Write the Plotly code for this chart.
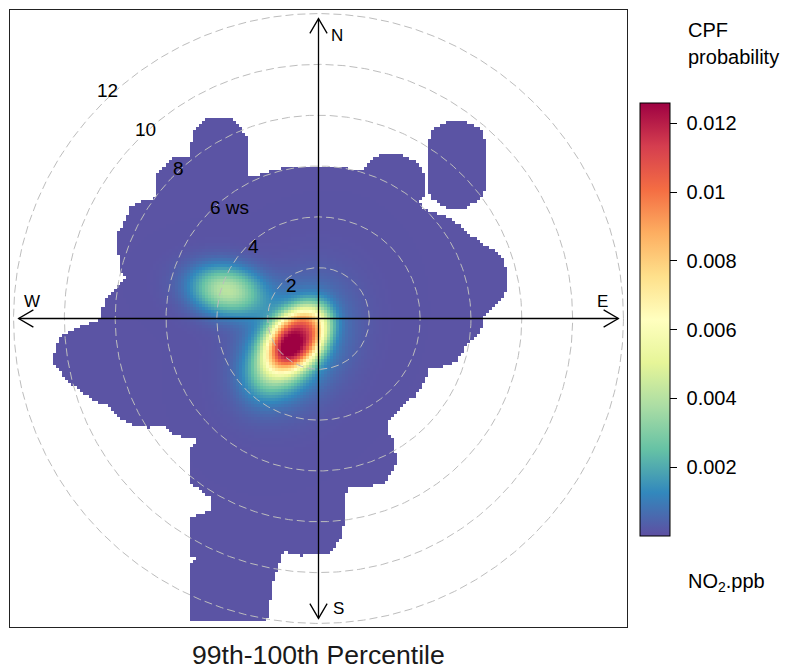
import numpy as np
import plotly.graph_objects as go

# ---------------- data (wind speed units / CPF probability) ----------------
ring_ws = [2, 4, 6, 8, 10, 12]
ring_labels = ["2", "4", "6 ws", "8", "10", "12"]
compass_labels = ["N", "E", "S", "W"]

cbar_tickvals = [0.002, 0.004, 0.006, 0.008, 0.01, 0.012]
cbar_ticktext = ["0.002", "0.004", "0.006", "0.008", "0.01", "0.012"]
cpf_min = 0.0
cpf_max = 0.0126
cpf_background = 0.0001

# CPF hot spots read from the surface (centre u/v in ws, peak, spread)
hot_u = [-0.80, -1.55, -0.90, -3.61]
hot_v = [-0.74, -1.62, -0.95, 1.11]
hot_peak = [0.0084, 0.0040, 0.0022, 0.0040]
hot_major = [1.35, 1.40, 2.10, 1.34]
hot_minor = [0.95, 0.95, 1.60, 0.89]
hot_angle = [50, 55, 60, -10]
hot_power = [3, 2, 2, 2]

# outline of the area covered by data (u, v components in ws)
main_u = [0.00, 0.59, 1.65, 2.05, 2.44, 3.35, 3.90, 4.13, 4.21, 3.94, 4.21, 4.69, 5.08, 5.71, 6.26,
          6.89, 7.28, 7.44, 7.36, 7.17, 6.50, 6.38, 5.87, 5.47, 4.80, 4.29, 4.21, 3.74, 3.23, 2.83,
          2.72, 2.95, 3.11, 2.56, 1.14, 0.98, 0.47, -0.71, -1.30, -1.38, -1.77, -2.01, -5.12, -5.04,
          -4.76, -5.04, -5.04, -4.25, -4.25, -5.12, -5.12, -4.65, -5.04, -5.71, -6.10, -6.73, -7.28,
          -7.68, -8.19, -8.70, -9.25, -9.76, -10.47, -10.47, -10.24, -9.76, -8.58, -8.39, -7.99,
          -7.52, -7.80, -7.91, -7.91, -7.48, -7.40, -6.89, -6.34, -6.34, -5.71, -5.12, -4.92, -4.65,
          -4.37, -3.35, -3.07, -2.76, -2.76, -2.68, -2.28, -1.10]
main_v = [6.02, 6.02, 5.83, 6.22, 6.42, 6.42, 6.10, 5.71, 4.84, 4.57, 4.25, 4.09, 3.98, 3.58, 3.07,
          2.68, 2.28, 1.77, 1.10, 0.71, 0.04, -0.47, -0.98, -1.65, -1.93, -1.97, -2.44, -3.11, -3.50,
          -3.90, -4.41, -4.80, -5.71, -6.50, -6.69, -8.46, -9.25, -9.33, -9.17, -9.25, -10.31, -11.89,
          -11.89, -9.61, -9.45, -9.41, -7.83, -7.56, -7.05, -6.38, -5.08, -4.80, -4.69, -4.61, -4.21,
          -4.29, -4.21, -4.02, -3.50, -3.31, -2.95, -2.56, -1.77, -1.54, -0.79, -0.47, -0.04, 0.83,
          1.22, 1.61, 1.77, 2.80, 3.35, 4.13, 4.37, 4.65, 4.76, 5.71, 6.30, 6.34, 7.32, 7.68, 7.87,
          7.87, 7.48, 7.13, 5.71, 5.55, 5.71, 6.02]
island_u = [4.29, 4.53, 5.08, 5.87, 6.38, 6.57, 6.57, 6.38, 6.10, 5.71, 5.08, 4.53, 4.33, 4.29]
island_v = [6.89, 7.52, 7.72, 7.72, 7.48, 6.89, 5.16, 4.76, 4.53, 4.29, 4.33, 4.65, 4.92, 5.43]

assert len(main_u) == len(main_v)
assert len(island_u) == len(island_v)

spectral_rev = ["#5E4FA2", "#3288BD", "#66C2A5", "#ABDDA4", "#E6F598", "#FFFFBF",
                "#FEE08B", "#FDAE61", "#F46D43", "#D53E4F", "#9E0142"]

# ---------------- build surface ----------------
WS_EXTENT = 12.14
ARROW = 11.8
STEP = 0.12
FONT = "Liberation Sans, Arial, sans-serif"

g = np.arange(-WS_EXTENT + STEP / 2, WS_EXTENT, STEP)
U, V = np.meshgrid(g, g)


def inside(px, py, vx, vy):
    res = np.zeros(px.shape, dtype=bool)
    n = len(vx)
    j = n - 1
    for i in range(n):
        xi, yi, xj, yj = vx[i], vy[i], vx[j], vy[j]
        if yi != yj:
            cond = ((yi > py) != (yj > py)) & (px < (xj - xi) * (py - yi) / (yj - yi) + xi)
            res ^= cond
        j = i
    return res


Z = np.full(U.shape, cpf_background)
for cu, cv, pk, smj, smn, ang, pw in zip(hot_u, hot_v, hot_peak, hot_major, hot_minor, hot_angle, hot_power):
    a = np.deg2rad(ang)
    du, dv = U - cu, V - cv
    p = du * np.cos(a) + dv * np.sin(a)
    q = -du * np.sin(a) + dv * np.cos(a)
    d = np.sqrt((p / smj) ** 2 + (q / smn) ** 2)
    Z = Z + pk * np.exp(-d ** pw)

mask = inside(U, V, main_u, main_v) | inside(U, V, island_u, island_v)
Z = np.where(mask, np.minimum(Z, cpf_max), np.nan)

colorscale = [[i / (len(spectral_rev) - 1), c] for i, c in enumerate(spectral_rev)]

fig = go.Figure()
fig.add_trace(go.Heatmap(
    x=g, y=g, z=Z, colorscale=colorscale, zmin=cpf_min, zmax=cpf_max,
    hoverinfo="skip",
    colorbar=dict(
        x=(640 - 10) / 617, xanchor="left", xpad=0,
        y=(627 - 319.3) / 617, yanchor="middle", ypad=0,
        len=433, lenmode="pixels", thickness=30, thicknessmode="pixels",
        outlinewidth=1, outlinecolor="black",
        tickvals=cbar_tickvals, ticktext=["\u00a0" + t for t in cbar_ticktext],
        ticks="outside", ticklen=7, tickwidth=1, tickcolor="black",
        tickfont=dict(family=FONT, size=20, color="black"),
    ),
))

# rings
theta = np.linspace(0, 2 * np.pi, 721)
for r in ring_ws:
    fig.add_trace(go.Scatter(
        x=r * np.cos(theta), y=r * np.sin(theta), mode="lines",
        line=dict(color="#BDBDBD", width=1, dash="8px,4px"),
        hoverinfo="skip", showlegend=False))

# axes with arrows
fig.add_trace(go.Scatter(x=[-ARROW, ARROW], y=[0, 0], mode="lines",
                         line=dict(color="black", width=1.3), hoverinfo="skip", showlegend=False))
fig.add_trace(go.Scatter(x=[0, 0], y=[-ARROW, ARROW], mode="lines",
                         line=dict(color="black", width=1.3), hoverinfo="skip", showlegend=False))
back, side = 0.58, 0.34
for dx, dy in [(0, 1), (1, 0), (0, -1), (-1, 0)]:
    tx, ty = dx * ARROW, dy * ARROW
    bx, by = tx - dx * back, ty - dy * back
    px_, py_ = -dy * side, dx * side
    fig.add_trace(go.Scatter(x=[bx + px_, tx, bx - px_], y=[by + py_, ty, by - py_], mode="lines",
                             line=dict(color="black", width=1.3), hoverinfo="skip", showlegend=False))

annotations = []
# compass labels
compass_pos = {"N": (0.74, 11.14), "E": (11.16, 0.66), "S": (0.77, -11.40), "W": (-11.26, 0.66)}
for lab in compass_labels:
    x, y = compass_pos[lab]
    annotations.append(dict(x=x, y=y, xref="x", yref="y", text=lab, showarrow=False,
                            font=dict(family=FONT, size=17, color="black"),
                            xanchor="center", yanchor="middle"))
# ring labels
ang = np.deg2rad(134)
for r, lab in zip(ring_ws, ring_labels):
    rr = 1.066 * r - 0.3
    annotations.append(dict(x=rr * np.cos(ang) - 0.1, y=rr * np.sin(ang), xref="x", yref="y", text=lab,
                            showarrow=False, font=dict(family=FONT, size=19, color="black"),
                            xanchor="left", yanchor="middle"))
# title and colour key labels
annotations.append(dict(x=0.5, y=(627 - 655) / 617, xref="paper", yref="paper",
                        text="99th-100th Percentile", showarrow=False,
                        font=dict(family=FONT, size=26.6, color="#1a1a1a"),
                        xanchor="center", yanchor="middle"))
KEY_X = (686 - 10) / 617
annotations.append(dict(x=KEY_X, y=(627 - 30) / 617, xref="paper", yref="paper",
                        text="CPF", showarrow=False, font=dict(family=FONT, size=20, color="black"),
                        xanchor="left", yanchor="middle"))
annotations.append(dict(x=KEY_X, y=(627 - 57) / 617, xref="paper", yref="paper",
                        text="probability", showarrow=False, font=dict(family=FONT, size=20, color="black"),
                        xanchor="left", yanchor="middle"))
annotations.append(dict(x=KEY_X, y=(627 - 582) / 617, xref="paper", yref="paper",
                        text="NO<sub>2</sub>.ppb", showarrow=False,
                        font=dict(family=FONT, size=20, color="black"),
                        xanchor="left", yanchor="middle"))

axis_style = dict(range=[-WS_EXTENT, WS_EXTENT], showgrid=False, zeroline=False,
                  showticklabels=False, ticks="", showline=True, mirror=True,
                  linecolor="#222222", linewidth=1.3, fixedrange=True)

fig.update_layout(
    width=791, height=669, autosize=False,
    margin=dict(l=10, r=164, t=10, b=42, pad=0),
    paper_bgcolor="white", plot_bgcolor="white",
    xaxis=axis_style, yaxis=axis_style,
    annotations=annotations, showlegend=False,
    font=dict(family=FONT, color="black"),
)

fig.write_html("out.html")
